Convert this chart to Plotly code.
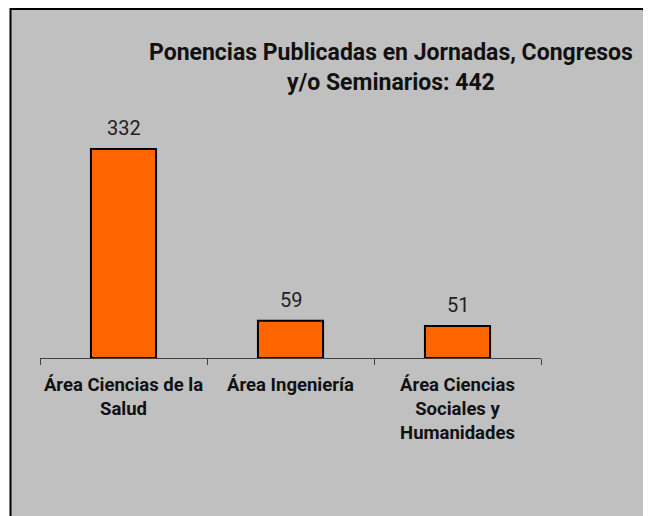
import plotly.graph_objects as go

categories = ["Área Ciencias de la<br>Salud", "Área Ingeniería", "Área Ciencias<br>Sociales y<br>Humanidades"]
values = [332, 59, 51]
title_text = "<b>Ponencias Publicadas en Jornadas, Congresos<br>y/o Seminarios: 442</b>"

OFF = 8  # page body margin
W, H = 651 - OFF, 516 - OFF
L, R_px, T, B_px = 40 - OFF, 541 - OFF, 100 - OFF, 358 - OFF
pw, ph = R_px - L, B_px - T

def px_x(x):
    return (x - OFF - L) / pw

def px_y(y):
    return (B_px - (y - OFF)) / ph

FONT = "Roboto, Liberation Sans, Arial, sans-serif"

fig = go.Figure()
fig.add_trace(go.Bar(
    x=categories, y=values,
    marker=dict(color="#FF6600", line=dict(color="#000000", width=2)),
    width=0.39,
    cliponaxis=False,
))

annotations = [dict(
    x=c, y=v, xref="x", yref="y", text=str(v), showarrow=False,
    yanchor="bottom", yshift=7,
    font=dict(family=FONT, size=20, color="#222222"),
) for c, v in zip(categories, values)]

annotations.append(dict(
    text=title_text, xref="paper", yref="paper",
    x=px_x(391), y=px_y(67), xanchor="center", yanchor="middle",
    showarrow=False, align="center",
    font=dict(family=FONT, size=23, color="#111111"),
))

fig.update_layout(
    width=W, height=H,
    margin=dict(l=L, r=W - R_px, t=T, b=H - B_px, pad=0),
    paper_bgcolor="#FFFFFF", plot_bgcolor="rgba(0,0,0,0)",
    showlegend=False,
    xaxis=dict(
        type="category", tickson="boundaries", ticks="outside", ticklen=6,
        tickcolor="#404040", tickwidth=1, tickangle=0,
        showline=True, linecolor="#404040", linewidth=1,
        showgrid=False, ticklabelstandoff=10,
        tickfont=dict(family=FONT, size=18.5, color="#111111", weight="bold"),
    ),
    yaxis=dict(range=[0, 410], visible=False, showgrid=False, zeroline=False),
    shapes=[dict(
        type="rect", xref="paper", yref="paper", layer="below",
        x0=px_x(10.5), x1=px_x(654), y0=px_y(540), y1=px_y(9),
        fillcolor="#C0C0C0", line=dict(color="#000000", width=2),
    )],
    annotations=annotations,
)

fig.write_html("out.html")
